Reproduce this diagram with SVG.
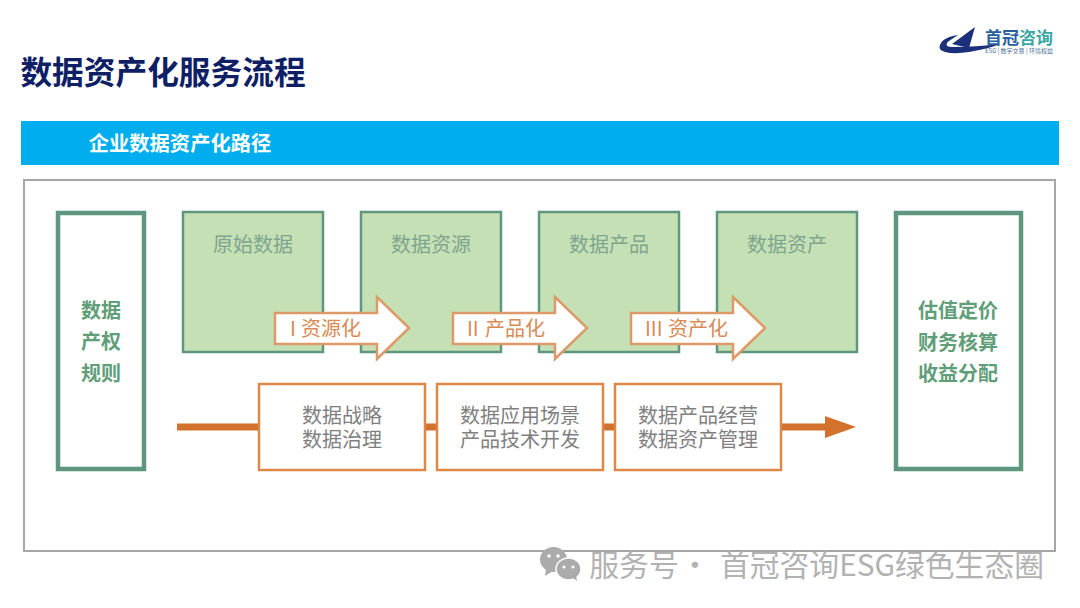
<svg xmlns="http://www.w3.org/2000/svg" width="1080" height="608" viewBox="0 0 1080 608">
<style>
text{font-family:"Noto Sans CJK SC","Liberation Sans",sans-serif;text-anchor:middle}
.g{fill:#c5e0b4;stroke:#5f9680;stroke-width:2.5}
.gt{font-size:20px;fill:#7ea58f}
.w{fill:#fff;stroke:#5f9680;stroke-width:4.5}
.wt{font-size:20px;font-weight:700;fill:#5f9e78}
.o{fill:#fff;stroke:#dd8847;stroke-width:2.5}
.ot{font-size:20px;fill:#7f7f7f}
.a{fill:#fff;stroke:#dd9a68;stroke-width:2.5}
.at{font-size:20px;fill:#d98a55;text-anchor:start}
.wm{fill:#ababab}
.wmt{font-size:29.8px;fill:#b2b2b2}
</style>
<rect width="1080" height="608" fill="#fff"/>
<text x="163" y="84" style="font-size:31.7px;font-weight:700;fill:#0f1f66">数据资产化服务流程</text>
<g id="logo">
<path d="M940 45C942 39 950 36 958 35L949 41C945 44 946 47 952 47C968 47 985 46 1000 44C985 50 962 54 950 53C943 52 938 50 940 45Z" fill="#1c2f7a"/>
<path d="M952 44L975 27L969 48Z" fill="#1c2f7a"/>
<text x="1019" y="44" style="font-size:17px;font-weight:700;fill:#2a5f9e">首冠<tspan fill="#3aa6a6">咨询</tspan></text>
<text x="1019" y="53" style="font-size:6px;fill:#4a6f96">ESG | 数字交易 | 环境权益</text>
</g>
<g id="header"><rect x="21" y="121" width="1038" height="44" fill="#00aeef"/>
<text x="180" y="151" style="font-size:20.3px;font-weight:700;fill:#fff">企业数据资产化路径</text></g>
<g id="frame"><rect x="24" y="180" width="1031" height="371" fill="#fff" stroke="#a6a6a6" stroke-width="2"/></g>
<g id="connectors">
<path d="M177 427H259M425 427H437M603 427H615M781 427H826" fill="none" stroke="#d2722c" stroke-width="7"/>
<path d="M825 416L856 427L825 438Z" fill="#d2722c"/>
</g>
<g id="n-rights"><rect class="w" x="58" y="213" width="86" height="256"/>
<text class="wt" x="101" y="318">数据</text><text class="wt" x="101" y="349">产权</text><text class="wt" x="101" y="381">规则</text></g>
<g id="n-raw"><rect class="g" x="183" y="212" width="140" height="140"/><text class="gt" x="253" y="252">原始数据</text></g>
<g id="n-resource"><rect class="g" x="361" y="212" width="140" height="140"/><text class="gt" x="431" y="252">数据资源</text></g>
<g id="n-product"><rect class="g" x="539" y="212" width="140" height="140"/><text class="gt" x="609" y="252">数据产品</text></g>
<g id="n-asset"><rect class="g" x="717" y="212" width="140" height="140"/><text class="gt" x="787" y="252">数据资产</text></g>
<g id="n-value"><rect class="w" x="896" y="213" width="125" height="256"/>
<text class="wt" x="958" y="318">估值定价</text><text class="wt" x="958" y="350">财务核算</text><text class="wt" x="958" y="381">收益分配</text></g>
<g id="a1"><path class="a" d="M275 313H377V297L409 328L377 359V344H275Z"/><text class="at" y="336"><tspan x="290">I</tspan><tspan x="301">资源化</tspan></text></g>
<g id="a2"><path class="a" d="M453 313H555V297L587 328L555 359V344H453Z"/><text class="at" y="336"><tspan x="467">II</tspan><tspan x="485">产品化</tspan></text></g>
<g id="a3"><path class="a" d="M631 313H733V297L765 328L733 359V344H631Z"/><text class="at" y="336"><tspan x="645">III</tspan><tspan x="668">资产化</tspan></text></g>
<g id="s1"><rect class="o" x="259" y="384" width="166" height="86"/><text class="ot" x="342" y="423">数据战略</text><text class="ot" x="342" y="447">数据治理</text></g>
<g id="s2"><rect class="o" x="437" y="384" width="166" height="86"/><text class="ot" x="520" y="423">数据应用场景</text><text class="ot" x="520" y="447">产品技术开发</text></g>
<g id="s3"><rect class="o" x="615" y="384" width="166" height="86"/><text class="ot" x="698" y="423">数据产品经营</text><text class="ot" x="698" y="447">数据资产管理</text></g>
<g id="watermark">
<ellipse cx="553.5" cy="559.5" rx="13.5" ry="12.5" class="wm"/>
<path d="M546 569L545 576L553 571Z" class="wm"/>
<ellipse cx="568.5" cy="569" rx="12.5" ry="11" class="wm" stroke="#fff" stroke-width="1.5"/>
<path d="M573 578L577 581L576 575Z" class="wm"/>
<circle cx="549" cy="556" r="1.8" fill="#fff"/><circle cx="558" cy="556" r="1.8" fill="#fff"/>
<circle cx="564" cy="567" r="1.6" fill="#fff"/><circle cx="573" cy="567" r="1.6" fill="#fff"/>
<text class="wmt" y="576"><tspan x="634">服务号</tspan><tspan x="695">·</tspan><tspan x="882">首冠咨询ESG绿色生态圈</tspan></text>
</g>
</svg>
